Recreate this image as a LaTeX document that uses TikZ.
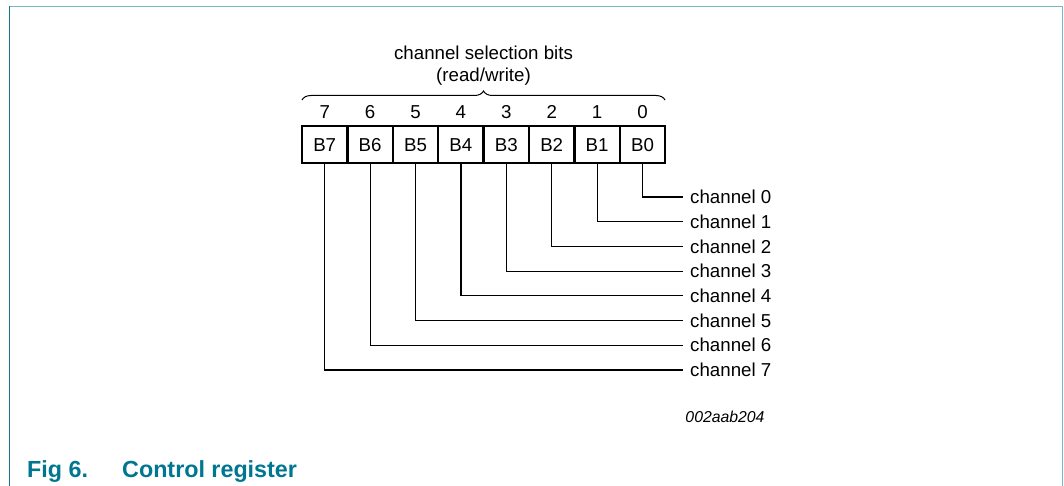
\documentclass[tikz,border=0pt]{standalone}
\usepackage{fontspec}
\setmainfont{Liberation Sans}
\usepackage{xcolor}
\usepackage{tikz}
\usetikzlibrary{calc,positioning,decorations.pathreplacing}
\definecolor{figteal}{RGB}{0,118,145}
\definecolor{framedark}{RGB}{20,120,140}
\definecolor{framelight}{RGB}{122,182,198}

\begin{document}
\begin{tikzpicture}[x=1pt,y=-1pt]
	\tikzstyle{every node} = [font=\fontsize{18.7}{22}\selectfont]
	\tikzstyle{bitbox} = [draw = black, line width = 2.5pt, minimum width = 45.4pt, minimum height = 37pt, inner sep = 0pt, text height = 13.4pt, text depth = 0pt]
	\tikzstyle{lead} = [draw, line width = 1.2pt]
\useasboundingbox (0, 0) rectangle (1064, 486);
% frame
\path[draw, framedark, line width = 1.6pt] (9.5, 6.5) -- (9.5, 486);
\path[draw, framelight, line width = 1.8pt] (9.5, 6.5) -- (1062.5, 6.5) -- (1062.5, 486);

\node[bitbox] (b7) at (324.7, 144.5) {B7};
\node[bitbox] (b6) at (370.1, 144.5) {B6};
\node[bitbox] (b5) at (415.5, 144.5) {B5};
\node[bitbox] (b4) at (460.9, 144.5) {B4};
\node[bitbox] (b3) at (506.3, 144.5) {B3};
\node[bitbox] (b2) at (551.7, 144.5) {B2};
\node[bitbox] (b1) at (597.1, 144.5) {B1};
\node[bitbox] (b0) at (642.5, 144.5) {B0};

\node (n7) at (324.7, 112) {7};
\node (n6) at (370.1, 112) {6};
\node (n5) at (415.5, 112) {5};
\node (n4) at (460.9, 112) {4};
\node (n3) at (506.3, 112) {3};
\node (n2) at (551.7, 112) {2};
\node (n1) at (597.1, 112) {1};
\node (n0) at (642.5, 112) {0};

\coordinate (brl) at (302, 100);
\coordinate (brr) at (665, 100);
\path[draw, line width = 1pt, decorate, decoration = {brace, amplitude = 9pt, aspect = 0.5}] (brl) -- (brr);
\node (sel) at (483.5, 53) {channel selection bits};
\node (rw) at (483.5, 77) {(read/write)};

\node[anchor = west, inner xsep = 7pt] (ch0) at (683, 197) {channel 0};
\node[anchor = west, inner xsep = 7pt] (ch1) at (683, 221.7) {channel 1};
\node[anchor = west, inner xsep = 7pt] (ch2) at (683, 246.4) {channel 2};
\node[anchor = west, inner xsep = 7pt] (ch3) at (683, 271.1) {channel 3};
\node[anchor = west, inner xsep = 7pt] (ch4) at (683, 295.8) {channel 4};
\node[anchor = west, inner xsep = 7pt] (ch5) at (683, 320.5) {channel 5};
\node[anchor = west, inner xsep = 7pt] (ch6) at (683, 345.2) {channel 6};
\node[anchor = west, inner xsep = 7pt] (ch7) at (683, 369.9) {channel 7};

	\path[lead] (b0.south) |- (ch0.west);
	\path[lead] (b1.south) |- (ch1.west);
	\path[lead] (b2.south) |- (ch2.west);
	\path[lead] (b3.south) |- (ch3.west);
	\path[lead] (b4.south) |- (ch4.west);
	\path[lead] (b5.south) |- (ch5.west);
	\path[lead] (b6.south) |- (ch6.west);
	\path[lead] (b7.south) |- (ch7.west);

\node[font = \fontsize{15.8}{18}\selectfont\itshape] (code) at (725, 417) {002aab204};
\node[anchor = base west, inner sep = 0pt, text = figteal, font = \fontsize{23.3}{26}\selectfont\bfseries] (fig) at (27, 477) {Fig 6.};
\node[anchor = base west, inner sep = 0pt, text = figteal, font = \fontsize{23.3}{26}\selectfont\bfseries] (cap) at (122, 477) {Control register};
	\end{tikzpicture}
\end{document}
